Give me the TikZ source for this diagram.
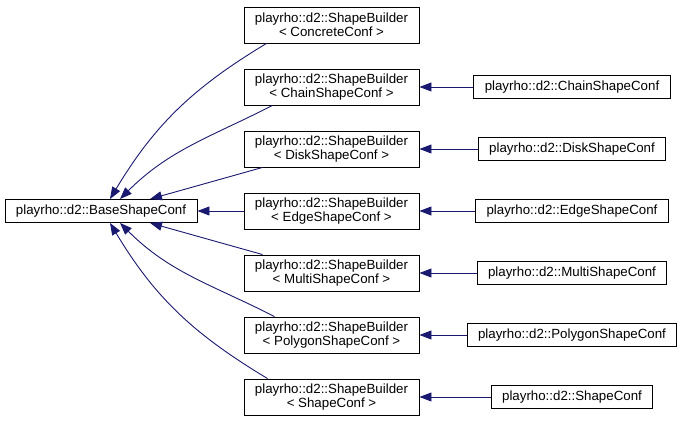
\documentclass[tikz,border=0pt]{standalone}
\usepackage{fontspec}
\setmainfont{Liberation Sans}
\usetikzlibrary{arrows.meta}
\definecolor{edgeblue}{RGB}{25,25,112}
\begin{document}
\begin{tikzpicture}[x=1pt,y=1pt,
  every node/.style={font=\fontsize{13.3}{14.5}\selectfont},
  cls/.style={draw,line width=0.9pt,inner xsep=11pt,inner ysep=0pt,minimum height=23pt,align=center},
  tpl/.style={cls,minimum height=36pt},
  inh/.style={draw=edgeblue,line width=0.9pt,-{Triangle[length=12pt,width=9pt]},edgeblue}]
  \useasboundingbox (0,0) rectangle (683,425);
  \node[cls] (base) at (101,214) {playrho::d2::BaseShapeConf};
  \node[tpl] (mconc) at (331.5,400) {playrho::d2::ShapeBuilder\\< ConcreteConf >};
  \node[tpl] (mchain) at (331.5,338) {playrho::d2::ShapeBuilder\\< ChainShapeConf >};
  \node[tpl] (mdisk) at (331.5,276) {playrho::d2::ShapeBuilder\\< DiskShapeConf >};
  \node[tpl] (medge) at (331.5,214) {playrho::d2::ShapeBuilder\\< EdgeShapeConf >};
  \node[tpl] (mmulti) at (331.5,152) {playrho::d2::ShapeBuilder\\< MultiShapeConf >};
  \node[tpl] (mpoly) at (331.5,90) {playrho::d2::ShapeBuilder\\< PolygonShapeConf >};
  \node[tpl] (mshape) at (331.5,28) {playrho::d2::ShapeBuilder\\< ShapeConf >};
  \node[cls] (chain) at (572,338) {playrho::d2::ChainShapeConf};
  \node[cls] (disk) at (572,276) {playrho::d2::DiskShapeConf};
  \node[cls] (edge) at (572,214) {playrho::d2::EdgeShapeConf};
  \node[cls] (multi) at (572,152) {playrho::d2::MultiShapeConf};
  \node[cls] (poly) at (572,90) {playrho::d2::PolygonShapeConf};
  \node[cls] (shape) at (572,28) {playrho::d2::ShapeConf};
  \draw[inh] ([xshift=23pt]mconc.south west) to[out=211,in=59] ([xshift=9pt]base.north);
  \draw[inh] ([xshift=29pt]mchain.south west) to[out=207,in=45] ([xshift=19pt]base.north);
  \draw[inh] ([xshift=19pt]mdisk.south west) -- ([xshift=49pt]base.north);
  \draw[inh] (medge) -- (base);
  \draw[inh] ([xshift=19pt]mmulti.north west) -- ([xshift=49pt]base.south);
  \draw[inh] ([xshift=31pt]mpoly.north west) to[out=153,in=-45] ([xshift=19pt]base.south);
  \draw[inh] ([xshift=24pt]mshape.north west) to[out=149,in=-59] ([xshift=9pt]base.south);
  \draw[inh] (chain) -- (mchain);
  \draw[inh] (disk) -- (mdisk);
  \draw[inh] (edge) -- (medge);
  \draw[inh] (multi) -- (mmulti);
  \draw[inh] (poly) -- (mpoly);
  \draw[inh] (shape) -- (mshape);
\end{tikzpicture}
\end{document}
